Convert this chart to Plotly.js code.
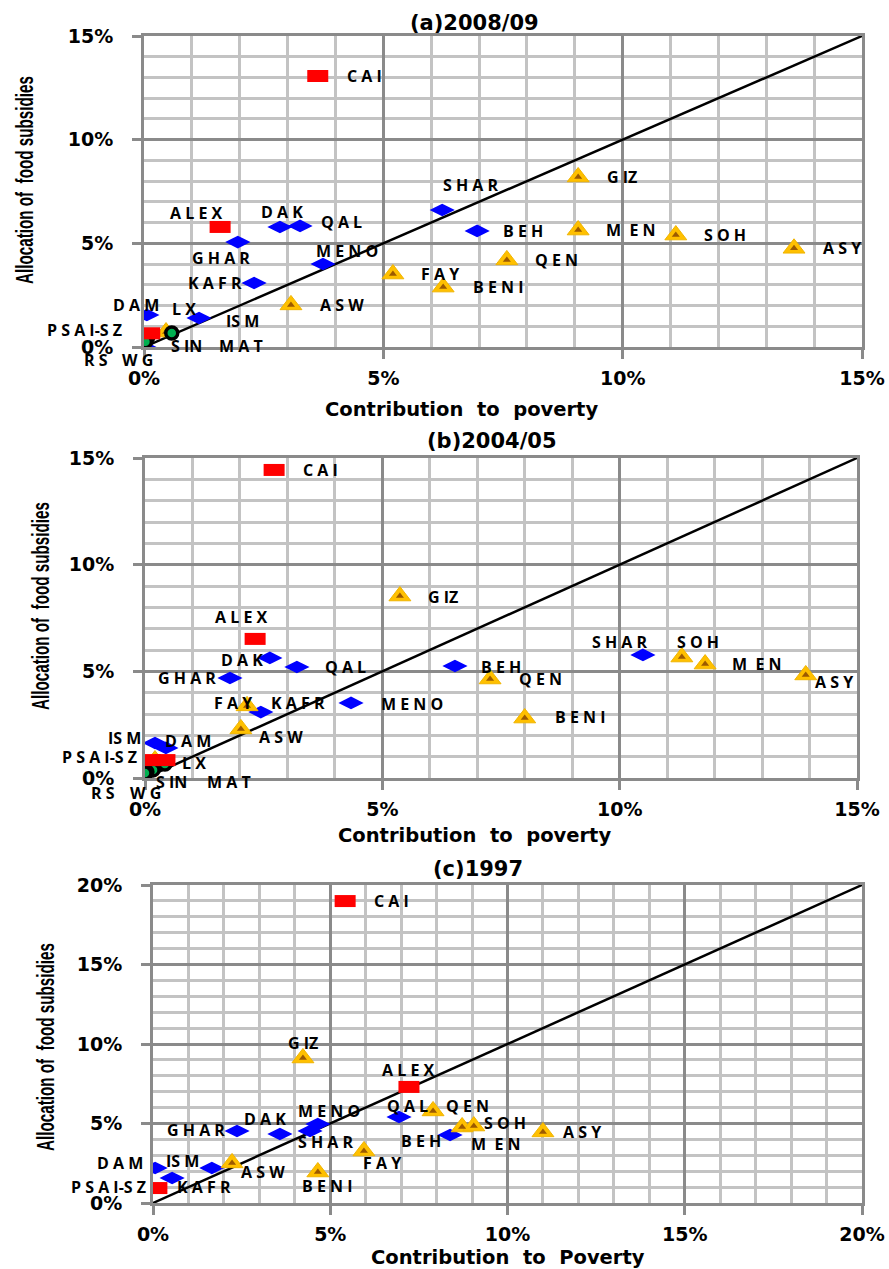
<!DOCTYPE html>
<html><head><meta charset="utf-8">
<script src="https://cdn.plot.ly/plotly-3.0.1.min.js"></script>
<style>html,body{margin:0;padding:0;background:#fff}</style>
</head><body><div id="chart" style="width:889px;height:1269px"></div>
<script>
// ---------------- Panel (a) 2008/09 ----------------
const a_title = "(a)2008/09";
const a_range = [0, 15];
const a_urbanNames = ["CAI", "ALEX", "PSAI-SZ"];
const a_urbanLabels = ["C A I", "A L E X", "P S A I-S Z"];
const a_urbanX = [3.63, 1.59, 0.12];
const a_urbanY = [13.07, 5.79, 0.66];
const a_lowerNames = ["SHAR", "BEH", "DAK", "QAL", "GHAR", "MENO", "KAFR", "DAM", "ISM", ""];
const a_lowerLabels = ["S H A R", "B E H", "D A K", "Q A L", "G H A R", "M E N O", "K A F R", "D A M", "IS M", ""];
const a_lowerX = [6.23, 6.96, 2.84, 3.26, 1.96, 3.74, 2.30, 0.06, 1.15, 0.0];
const a_lowerY = [6.61, 5.60, 5.79, 5.84, 5.06, 4.00, 3.09, 1.54, 1.40, 0.0];
const a_upperNames = ["GIZ", "MEN", "SOH", "ASY", "QEN", "BENI", "FAY", "ASW", "LX"];
const a_upperLabels = ["G IZ", "M  E N", "S O H", "A S Y", "Q E N", "B E N I", "F A Y", "A S W", "L X"];
const a_upperX = [9.07, 9.07, 11.11, 13.58, 7.58, 6.25, 5.20, 3.07, 0.46];
const a_upperY = [8.20, 5.64, 5.40, 4.76, 4.20, 2.89, 3.52, 2.03, 0.72];
const a_frontNames = ["SIN", "MAT", "RS", "WG"];
const a_frontLabels = ["S IN", "M A T", "R S", "W G"];
const a_frontX = [0.58, 0.08, 0.0, 0.03];
const a_frontY = [0.68, 0.48, 0.20, 0.25];

// ---------------- Panel (b) 2004/05 ----------------
const b_title = "(b)2004/05";
const b_range = [0, 15];
const b_urbanNames = ["CAI", "ALEX", "PSAI", "SZ"];
const b_urbanLabels = ["C A I", "A L E X", "P S A I-S Z", ""];
const b_urbanX = [2.72, 2.32, 0.11, 0.42];
const b_urbanY = [14.44, 6.52, 0.84, 0.84];
const b_lowerNames = ["DAK", "QAL", "GHAR", "KAFR", "MENO", "ISM", "DAM", "BEH", "SHAR"];
const b_lowerLabels = ["D A K", "Q A L", "G H A R", "K A F R", "M E N O", "IS M", "D A M", "B E H", "S H A R"];
const b_lowerX = [2.63, 3.20, 1.79, 2.44, 4.34, 0.21, 0.44, 6.53, 10.49];
const b_lowerY = [5.63, 5.20, 4.69, 3.09, 3.52, 1.64, 1.41, 5.25, 5.77];
const b_upperNames = ["GIZ", "FAY", "ASW", "LX", "QEN", "BENI", "SOH", "MEN", "ASY"];
const b_upperLabels = ["G IZ", "F A Y", "A S W", "L X", "Q E N", "B E N I", "S O H", "M  E N", "A S Y"];
const b_upperX = [5.37, 2.15, 2.02, 0.21, 7.27, 8.00, 11.31, 11.80, 13.92];
const b_upperY = [8.53, 3.38, 2.30, 0.84, 4.64, 2.81, 5.67, 5.34, 4.83];
const b_frontNames = ["SIN", "MAT", "RS", "WG"];
const b_frontLabels = ["S IN", "M A T", "R S", "W G"];
const b_frontX = [0.42, 0.17, 0.04, 0.0];
const b_frontY = [0.66, 0.38, 0.28, 0.23];

// ---------------- Panel (c) 1997 ----------------
const c_title = "(c)1997";
const c_range = [0, 20];
const c_urbanNames = ["CAI", "ALEX", "PSAI-SZ"];
const c_urbanLabels = ["C A I", "A L E X", "P S A I-S Z"];
const c_urbanX = [5.42, 7.22, 0.11];
const c_urbanY = [18.99, 7.30, 0.94];
const c_lowerNames = ["QAL", "BEH", "MENO", "SHAR", "DAK", "GHAR", "ISM", "DAM", "KAFR"];
const c_lowerLabels = ["Q A L", "B E H", "M E N O", "S H A R", "D A K", "G H A R", "IS M", "D A M", "K A F R"];
const c_lowerX = [6.94, 8.38, 4.65, 4.43, 3.58, 2.37, 1.66, 0.06, 0.54];
const c_lowerY = [5.41, 4.28, 4.97, 4.53, 4.34, 4.53, 2.20, 2.20, 1.57];
const c_upperNames = ["GIZ", "QEN", "MEN", "SOH", "ASY", "FAY", "BENI", "ASW"];
const c_upperLabels = ["G IZ", "Q E N", "M  E N", "S O H", "A S Y", "F A Y", "B E N I", "A S W"];
const c_upperX = [4.23, 7.90, 8.72, 9.05, 11.00, 5.95, 4.65, 2.23];
const c_upperY = [9.12, 5.79, 4.78, 4.84, 4.47, 3.27, 1.95, 2.52];
const c_frontNames = [];
const c_frontLabels = [];
const c_frontX = [];
const c_frontY = [];

const xTitleAB = "Contribution  to  poverty";
const xTitleC = "Contribution  to  Poverty";
const yTitle = "Allocation of  food subsidies";

// ---------------- label offsets (pixels: dx right, dy down) ----------------
const a_off = {
  urban: [[47,0],[-24,-14],[-65,-3]],
  lower: [[29,-25],[46,0],[2,-15],[41,-4],[-17,16],[24,-13],[-39,0],[-11,-10],[43,3],[0,0]],
  upper: [[44,0],[53,0],[49,0],[48,0],[50,0],[55,0],[47,0],[51,0],[18,-23]],
  front: [[15,13],[93,9],[-48,17],[-8,18]]
};
const b_off = {
  urban: [[46,0],[-14,-22],[-51,-3],[0,0]],
  lower: [[-28,2],[49,0],[-43,0],[37,-9],[61,1],[-30,-5],[22,-7],[46,1],[-23,-13]],
  upper: [[43,1],[-14,-3],[40,8],[39,3],[50,0],[55,-1],[16,-15],[52,0],[28,7]],
  front: [[7,18],[76,12],[-44,21],[0,20]]
};
const c_off = {
  urban: [[46,0],[0,-17],[-48,-1]],
  lower: [[8,-11],[-29,6],[11,-13],[16,11],[-15,-15],[-41,-1],[-29,-7],[-35,-5],[32,9]],
  upper: [[0,-15],[34,-5],[34,17],[31,-3],[39,0],[18,12],[9,14],[31,9]],
  front: []
};

// ---------------- geometry (pixels) ----------------
const W = 889, H = 1269;
const geo = [
  {x0:144, x1:862, yTop:36,  yBot:347,  title:[474,23],  xt:[461,409],  yt:[25,180]},
  {x0:145, x1:857, yTop:458, yBot:778,  title:[492,441], xt:[474,836],  yt:[40,606]},
  {x0:153, x1:862, yTop:885, yBot:1203, title:[478,869], xt:[508,1257], yt:[45,1047]}
];
const yTitleLen = 208;

const panels = [
  {title:a_title, range:a_range, xt:xTitleAB, off:a_off,
   urban:[a_urbanNames,a_urbanLabels,a_urbanX,a_urbanY], lower:[a_lowerNames,a_lowerLabels,a_lowerX,a_lowerY],
   upper:[a_upperNames,a_upperLabels,a_upperX,a_upperY], front:[a_frontNames,a_frontLabels,a_frontX,a_frontY]},
  {title:b_title, range:b_range, xt:xTitleAB, off:b_off,
   urban:[b_urbanNames,b_urbanLabels,b_urbanX,b_urbanY], lower:[b_lowerNames,b_lowerLabels,b_lowerX,b_lowerY],
   upper:[b_upperNames,b_upperLabels,b_upperX,b_upperY], front:[b_frontNames,b_frontLabels,b_frontX,b_frontY]},
  {title:c_title, range:c_range, xt:xTitleC, off:c_off,
   urban:[c_urbanNames,c_urbanLabels,c_urbanX,c_urbanY], lower:[c_lowerNames,c_lowerLabels,c_lowerX,c_lowerY],
   upper:[c_upperNames,c_upperLabels,c_upperX,c_upperY], front:[c_frontNames,c_frontLabels,c_frontX,c_frontY]}
];

const MAJOR = '#8a8a8a', MINOR = '#c3c3c3';
const tickFont = {family:'DejaVu Sans', size:19, weight:'bold', color:'#000'};
const labFont = {family:'Open Sans, DejaVu Sans', size:16, weight:'bold', color:'#000'};

const traces = [];
const annotations = [];
const layout = {width:W, height:H, margin:{l:0,r:0,t:0,b:0}, showlegend:false,
  paper_bgcolor:'#fff', plot_bgcolor:'#fff', annotations:annotations};

panels.forEach((p, i) => {
  const g = geo[i];
  const xa = i === 0 ? 'x' : 'x' + (i+1);
  const ya = i === 0 ? 'y' : 'y' + (i+1);
  const xk = i === 0 ? 'xaxis' : 'xaxis' + (i+1);
  const yk = i === 0 ? 'yaxis' : 'yaxis' + (i+1);
  const common = {
    range:p.range, dtick:5, tick0:0, ticksuffix:'%',
    showgrid:true, gridcolor:MAJOR, gridwidth:3,
    minor:{dtick:1, showgrid:true, gridcolor:MINOR, gridwidth:3, ticks:''},
    zeroline:false, showline:true, linecolor:MAJOR, linewidth:3, mirror:true,
    ticks:'outside', ticklen:9, tickwidth:3, tickcolor:MAJOR,
    tickfont:tickFont, fixedrange:true
  };
  layout[xk] = Object.assign({}, common, {domain:[g.x0/W, g.x1/W], anchor:ya, ticklabelstandoff:3});
  layout[yk] = Object.assign({}, common, {domain:[1-g.yBot/H, 1-g.yTop/H], anchor:xa, ticklabelstandoff:15});

  // y = x reference line
  traces.push({type:'scatter', mode:'lines', x:p.range, y:p.range, xaxis:xa, yaxis:ya,
    line:{color:'#000', width:2.5}, hoverinfo:'skip'});

  const groups = [
    ['lower', {symbol:'diamond-wide', size:18, color:'#0000ff', line:{width:0}}],
    ['upper', {symbol:'triangle-up', size:19, color:'#ffc000', line:{width:1, color:'#f0b400'}}],
    ['front', {symbol:'circle', size:12, color:'#00b050', line:{width:3.5, color:'#000'}}],
    ['urban', {symbol:'line-ew', size:15, color:'#ff0000', line:{width:12, color:'#ff0000'}}]
  ];
  groups.forEach(([key, marker]) => {
    const [names, labels, xs, ys] = p[key];
    if (!xs.length) return;
    traces.push({type:'scatter', mode:'markers', x:xs, y:ys, text:names, xaxis:xa, yaxis:ya,
      marker:marker, hoverinfo:'text'});
    if (key === 'upper') {
      traces.push({type:'scatter', mode:'markers', x:xs, y:ys, xaxis:xa, yaxis:ya,
        marker:{symbol:'triangle-up', size:7, color:'#9c5a00', line:{width:0}}, hoverinfo:'skip'});
    }
    labels.forEach((lab, k) => {
      if (!lab) return;
      const o = p.off[key][k];
      annotations.push({xref:xa, yref:ya, x:xs[k], y:ys[k], text:lab, showarrow:false,
        xanchor:'center', yanchor:'middle', xshift:o[0], yshift:-o[1], font:labFont});
    });
  });

  // panel title
  annotations.push({xref:'paper', yref:'paper', x:g.title[0]/W, y:1-g.title[1]/H, text:p.title,
    showarrow:false, xanchor:'center', yanchor:'middle',
    font:{family:'DejaVu Sans', size:21, weight:'bold', color:'#000'}});
  // x title
  annotations.push({xref:'paper', yref:'paper', x:g.xt[0]/W, y:1-g.xt[1]/H, text:p.xt,
    showarrow:false, xanchor:'center', yanchor:'middle',
    font:{family:'DejaVu Sans', size:19.5, weight:'bold', color:'#000'}});
  // y title
  annotations.push({xref:'paper', yref:'paper', x:g.yt[0]/W, y:1-g.yt[1]/H, text:yTitle,
    showarrow:false, xanchor:'center', yanchor:'middle', textangle:-90,
    font:{family:'Liberation Sans', size:24, weight:'bold', color:'#000'}});
});

Plotly.newPlot('chart', traces, layout, {staticPlot:true}).then(gd => {
  // condense the y-axis titles (the reference uses a very narrow typeface)
  const norm = s => s.replace(/\s+/g, ' ').trim();
  gd.querySelectorAll('text.annotation-text').forEach(t => {
    if (norm(t.textContent) === norm(yTitle)) {
      t.setAttribute('textLength', yTitleLen);
      t.setAttribute('lengthAdjust', 'spacingAndGlyphs');
    }
  });
});
</script>
</body></html>
